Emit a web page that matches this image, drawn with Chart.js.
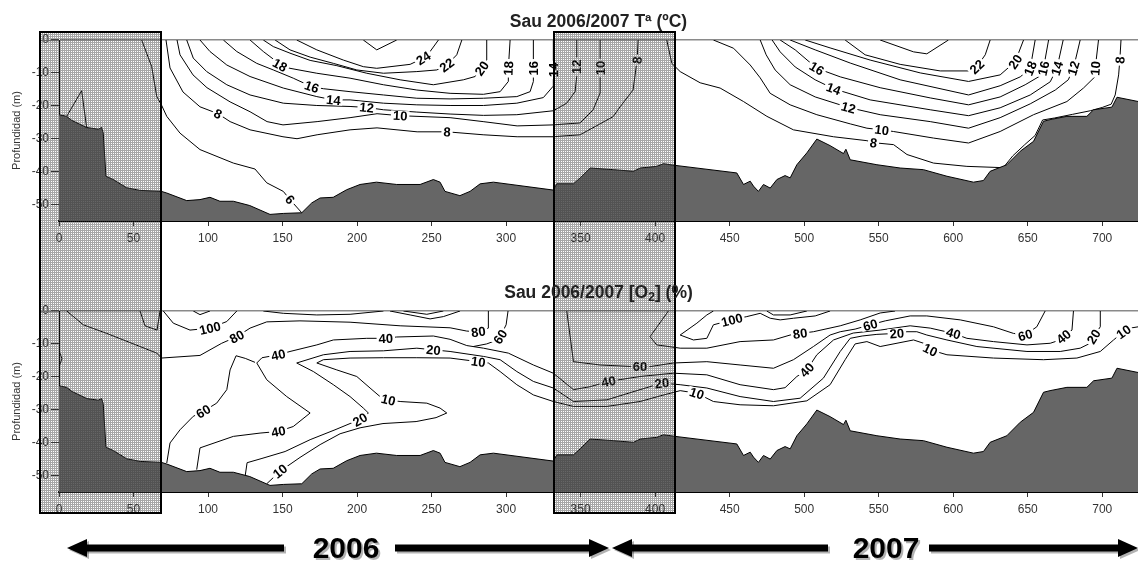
<!DOCTYPE html>
<html>
<head>
<meta charset="utf-8">
<title>Sau 2006/2007</title>
<script src="https://cdn.jsdelivr.net/npm/chart.js@4.4.1/dist/chart.umd.min.js"></script>
<style>
  html, body { margin: 0; padding: 0; background: #fff; }
  body { width: 1138px; height: 561px; position: relative; overflow: hidden; }
  canvas { position: absolute; left: 0; }
  #tempChart { top: 0; }
  #oxyChart { top: 280px; }
</style>
</head>
<body>
<canvas id="tempChart" width="1138" height="280"></canvas>
<canvas id="oxyChart" width="1138" height="281"></canvas>
<script>
// axes
const dayTicks = [0, 50, 100, 150, 200, 250, 300, 350, 400, 450, 500, 550, 600, 650, 700];
const depthTicks = [0, -10, -20, -30, -40, -50];
const shadedDays = [[-13, 68.5], [332.2, 413.4]];

// reservoir bottom (day, depth m)
const bathyDays = [0, 5.1, 8.5, 18.6, 26.4, 28.6, 29.7, 31.5, 36.4, 45.4, 54.4, 68.7, 72.3, 85.7, 94.6, 101.3, 108, 117, 128, 141.6,
  150.5, 162.9, 169.6, 175.2, 184, 193, 202, 213, 226.6, 242.3, 251.2, 255.7, 259, 269, 275.8, 282.6, 291.5, 331.7, 334, 345.2,
  349.7, 356.4, 372, 385.4, 390, 401, 405.6, 413.4, 454.8, 459.3, 463.8, 466, 469.3, 472.7, 477.2, 481.7, 487.2, 490.6, 495.1, 501.8,
  508.5, 517.4, 526.4, 528, 530.9, 548.8, 564.4, 580, 595.8, 613.6, 620.3, 624.8, 636, 645, 653.9, 660.6, 665, 676.3, 689.7, 694.2,
  706.5, 709.9, 724.2];
const bathyDepth = [-22.7, -23.2, -24.4, -26.6, -27.1, -26.6, -28.3, -41.4, -42.4, -44.9, -45.7, -46, -46.5, -48.8, -48.5, -47.8, -49, -49, -50.3, -53,
  -52.7, -52.5, -49.5, -48, -47.8, -45.5, -43.9, -43.2, -43.9, -43.9, -42.4, -43.2, -46, -47.3, -46, -43.7, -43.2, -45.6, -43.7, -43.7,
  -41.9, -38.9, -39.4, -39.9, -38.9, -38.4, -37.6, -38.1, -40.4, -43.9, -42.9, -44.4, -46, -43.9, -45, -42.4, -41.2, -41.9, -37.9, -34.3,
  -30.1, -32.1, -34.5, -33.2, -36.4, -37.9, -38.9, -39.4, -41.4, -43.2, -42.7, -39.9, -37.9, -33.8, -30.8, -24.7, -24.2, -23.2, -23.2, -21.2,
  -20.4, -17.4, -18.7];

// temperature isolines [day, depth]
const t06a = [[55.5,0],[62.2,-8.1],[65.6,-17.2],[68.7,-19.7],[72.3,-23.2],[81.2,-28.3],[94.6,-33.3],[117,-37.4],[131.5,-39.2],[139.4,-43.4],[150.5,-46],[155,-48.5],[162.9,-52.5]];
const t06b = [[5.2,-23.2],[15.2,-15.4],[18.6,-26.8]];
const t08a = [[71.8,0],[74.5,-8.5],[83.2,-15.8],[94.6,-20.3],[106.7,-22.4],[114.8,-24.8],[128.2,-27.3],[150.3,-29.4],[159.7,-30],[173.2,-28.8],[195.3,-27.3],[213.4,-26.7],[240.3,-27.9],[260.4,-27.9],[284.6,-28.8],[307.4,-29.4],[331.5,-29.4],[349.7,-28.8],[371.8,-23.3],[376.5,-20.3],[385.2,-15.2],[387.9,-6.1],[388.6,0]];
const t10a = [[79.2,0],[81.2,-4.5],[89.9,-10.6],[99.3,-14.5],[114.8,-18.8],[128.2,-21.8],[139.6,-24.8],[150.3,-25.8],[173.2,-24.8],[195.3,-23.6],[213.4,-22.4],[228.9,-23],[262.4,-23.6],[284.6,-24.8],[307.4,-26.1],[331.5,-25.8],[349.7,-25.2],[358.4,-21.2],[363.1,-16.1],[363.1,-8.5],[363.1,0]];
const t12a = [[85.7,0],[90.1,-5.5],[99.1,-9.6],[112.6,-13.6],[128.2,-16.7],[150.5,-19.2],[173,-19.9],[195.3,-20.2],[206.5,-20.5],[217.7,-21.2],[240.1,-21.9],[262.4,-22.5],[284.8,-22.9],[307.2,-22.7],[331.7,-21.5],[340.7,-19.2],[346.3,-15.7],[347.4,-11.1],[347.4,-8.1],[347.4,0]];
const t14a = [[94.6,0],[101.3,-3.5],[112.6,-7.6],[128.2,-11.1],[150.5,-14.6],[173,-17.2],[184.1,-18.2],[195.3,-18.2],[217.7,-19.2],[240.1,-19.7],[262.4,-19.9],[284.8,-19.9],[307.2,-19.2],[325,-17.5],[331.7,-14],[331.7,-9.1],[331.7,0]];
const t16a = [[110.3,0],[119.3,-3.5],[132.7,-7.1],[143.8,-9.1],[157.2,-11.6],[169.6,-14.2],[177.4,-14.8],[195.3,-15.7],[217.7,-16.7],[240.1,-17.7],[262.4,-17.9],[284.8,-17.7],[307.2,-17.2],[316.1,-15.7],[318.3,-12.6],[318.3,-8.6],[318.3,0]];
const t18a = [[128.2,0],[137.1,-3.5],[143.8,-5.8],[148.3,-7.6],[155,-8.6],[173,-10.1],[195.3,-11.6],[217.7,-13.6],[240.1,-15.2],[262.4,-16.2],[284.8,-16.5],[296,-15.7],[301.5,-12.6],[301.5,-8.6],[302.7,0]];
const t20a = [[137.1,0],[143.8,-2],[155,-4],[168.5,-6.2],[186.4,-7.8],[206.5,-10.1],[228.9,-12.1],[251.2,-13.6],[271.3,-12.1],[279.2,-11.1],[283.7,-8.6],[287,-6.1],[287,0]];
const t22a = [[145,0],[155,-3],[168.5,-5.2],[184.1,-7.1],[199.8,-9.1],[217.7,-10.1],[240.1,-9.6],[253.5,-9.1],[260.2,-7.6],[266.9,-4.5],[270.3,0]];
const t24a = [[159.5,0],[173,-3],[190.8,-6.1],[204.2,-8.1],[213.2,-8.6],[235.6,-7.4],[244.5,-5.5],[249,-3.5],[254.6,0]];
const t26a = [[204.2,0],[213.2,-3],[226.6,0]];
const t08b = [[407.8,0],[411.2,-7.1],[416.8,-9.6],[430.2,-13],[443.6,-14.6],[459.3,-18.7],[475,-23.2],[492.8,-27.3],[519.7,-29.4],[542.1,-30.6],[546.5,-31.2],[560,-31.8],[569,-34.8],[586.8,-37.4],[609.2,-38.4],[633.6,-38.8],[640,-35.2],[648,-31.8],[655,-29],[660,-24.3],[668,-23.7],[680,-22.6],[692,-21.5],[700,-20.5],[706,-19.5],[708.7,-16.7],[711,-10.6],[711.8,-6.1],[712.6,0]];
const t10b = [[439.1,0],[452.6,-2.5],[463.8,-7.6],[470.5,-11.5],[477.2,-16.2],[490.6,-19.7],[508.5,-22.7],[531,-25.5],[542.1,-26.8],[552.1,-27.3],[559.9,-27.8],[586.8,-29.8],[610.3,-31.3],[631.5,-27.8],[653.9,-22.7],[676.3,-18.7],[687.4,-14.6],[695.3,-11.1],[695.3,-8.6],[697.5,0]];
const t12b = [[470.5,0],[474.5,-4.5],[480.5,-9.1],[490.6,-13.6],[507.4,-17.3],[529.7,-20.5],[551,-22.7],[584.6,-24.8],[610.3,-26.8],[631.5,-23.6],[651.7,-19.4],[668.5,-15.2],[677.2,-12.1],[680.7,-8.6],[685.2,0]];
const t14b = [[478.5,0],[483.9,-3.6],[494,-8.2],[507.4,-12.1],[519.7,-14.8],[544.3,-18.2],[584.6,-21.2],[610.3,-23],[631.5,-20.6],[651.7,-16.7],[665.1,-12.7],[669.6,-8.6],[673.8,0]];
const t16b = [[483.9,0],[494,-3],[508.5,-8.6],[524.2,-11.2],[551,-14.5],[584.6,-17.6],[610.3,-19.7],[631.5,-17.3],[648.3,-13.6],[658.4,-10.9],[660.6,-8.6],[664,0]];
const t18b = [[490.6,0],[507.4,-3],[530.9,-7],[564.4,-12.1],[610.3,-16.7],[631.5,-13.9],[645,-11.2],[651.7,-8.6],[655,0]];
const t20b = [[500.7,0],[517.4,-2.4],[544.3,-6.1],[577.9,-10],[610.3,-12.6],[631.5,-10.6],[641.6,-6.6],[647.2,0]];
const t22b = [[527.5,0],[540.9,-4.5],[564.4,-7.4],[591.3,-9.4],[610.1,-9.4],[615.9,-8.1],[621.5,-4.5],[624.8,0]];
const t24b = [[551,0],[573.4,-3.6],[582.3,-4.2],[596.8,0]];

// oxygen isolines [day, depth]
const o80a = [[5.2,0],[16.3,-4.2],[32,-6.8],[43.2,-8.8],[65.6,-12.8],[68.7,-14.3],[94.6,-13.5],[109.2,-9.8],[119.3,-7.8],[128.2,-5.2],[139.4,-3.3],[161.7,-3],[195.3,-3.4],[228.9,-4.5],[262.4,-5.1],[273.6,-6.1],[281.4,-6.3],[288.1,-5.2],[288.1,0]];
const o100a = [[70,0],[76.7,-3.7],[87.9,-5.8],[101.3,-5.2],[112.6,-3.2],[119.3,0]];
const o120a = [[90.1,0],[94.6,-1.1],[101.3,0]];
const o100v = [[54.4,0],[57.7,-4.5],[65.8,-5.8],[67.8,0]];
const o100b = [[137.1,0],[150.5,-0.7],[173,-1.2],[195.3,-1],[217.7,0]];
const o100c = [[222.1,0],[235.6,-1.2],[249,-2.4],[257.9,-1.7],[269.1,0]];
const o100d = [[231.1,0],[246.8,-1],[257.9,0]];
const o60a = [[72.3,-46.2],[74.5,-40.1],[81.2,-36.1],[90.1,-32],[96.8,-30.5],[105.8,-28],[112.6,-23.9],[114.8,-17.9],[118.8,-13.6],[125,-14.4],[131.5,-15.6]];
const o60c = [[278,-10.8],[287,-10],[293,-9],[296,-7.8],[300,-4.2],[301.3,0]];
const o40 = [[92.4,-48.2],[94.6,-41.6],[117,-38.1],[134.9,-37.1],[147.2,-36.6],[157.2,-35.1],[168.5,-31],[152.8,-26],[139.4,-20.9],[132.7,-15.8],[136.2,-14.2],[147.2,-13.3],[155,-12.3],[173,-10.3],[184.1,-8.8],[206.5,-8.3],[219.3,-8.3],[226.6,-7.9],[251.2,-7.6],[262.4,-8.6],[273.6,-10.5],[284.8,-11.3],[301.5,-12.8],[318.3,-16.4],[331.7,-18.9],[345.2,-23.9],[356.4,-23],[368.7,-21.4],[389.9,-19.9],[412.3,-18.9],[434.7,-19.4],[457,-22.4],[479.4,-23.9],[487.2,-23.3],[495.1,-19.9],[501.8,-17.9],[508.5,-13.3],[519.7,-8.8],[532.9,-6.7],[551,-5.8],[571.1,-4.5],[584.6,-5.2],[600.2,-6.8],[609.2,-8.3],[627,-9.3],[649.5,-10.3],[665.1,-9.8],[671.8,-8.8],[674,-7.8],[679.7,-5.8],[680.7,0]];
const o20 = [[124.8,-50.5],[126.2,-46.1],[136.2,-44.8],[151.7,-42.7],[168.5,-39.1],[185.2,-36.1],[195.3,-34.2],[202,-33],[207.6,-31],[204.2,-29.5],[195.3,-26],[184.1,-22.4],[170.7,-18.4],[159.5,-15.8],[177.4,-13.3],[195.3,-12.3],[217.7,-12.1],[240.1,-11.3],[251.2,-11.8],[262.4,-12.3],[284.8,-13.8],[296,-14.8],[307.2,-18.4],[318.3,-21.4],[331.7,-23.4],[345.2,-27.5],[367.6,-27],[389.9,-23.9],[404.5,-21.9],[416.8,-22.4],[434.7,-23.4],[457,-26],[479.4,-27.5],[497.3,-26.5],[512.9,-20.4],[524.2,-12.3],[530.9,-8.3],[538.9,-7.6],[548.8,-7.1],[562.2,-6.8],[568.9,-6.3],[575.6,-6.3],[582.3,-7.3],[595.8,-8.8],[615.9,-10.8],[649.5,-12.3],[671.8,-12.3],[685.2,-11.3],[691.9,-9.8],[694.2,-7.8],[698.7,-4.8],[698.7,0]];
const o10 = [[139.4,-52.5],[148.3,-48.7],[161.7,-44.5],[175.2,-40.6],[188.6,-37.3],[202,-35.5],[217.4,-34.2],[239.6,-33.6],[253,-32.4],[260.2,-31],[255.7,-29.5],[246.8,-28],[228.9,-27.5],[221,-27],[215.4,-26],[208.7,-23.4],[199.8,-19.9],[186.4,-17.9],[173,-15.8],[177.4,-14.8],[195.3,-14.3],[217.7,-14.2],[240.1,-14.2],[262.4,-14.3],[281.4,-15.4],[288.1,-15.8],[296,-18.4],[307.2,-22.4],[318.3,-25.5],[331.7,-27.5],[345.2,-29],[367.6,-29],[389.9,-27.5],[403.4,-25.8],[416.8,-24.2],[428,-25],[439.1,-27.5],[457,-28.5],[479.4,-28.8],[501.8,-27.3],[517.4,-22.4],[527.5,-14.8],[534.2,-10],[542.1,-9.3],[551,-10.8],[573.4,-8.8],[580.1,-9.8],[584.6,-11.8],[595.8,-13.3],[627,-14.3],[660.6,-14.8],[683,-14.3],[698.7,-12.3],[707.6,-8.8],[714.3,-6.3],[718.8,-5.2],[724.2,-4.8]];
const o60b = [[340.7,0],[345.2,-15.4],[363.1,-16.4],[385.4,-16.9],[389.9,-16.9],[396.6,-16.9],[412.3,-15.8],[434.7,-15.4],[457,-16.4],[479.4,-17.4],[492.8,-14.8],[506.2,-10.8],[517.4,-7.3],[524.2,-6.3],[534.2,-5.5],[544.3,-4.2],[554.4,-3],[571.1,-1.5],[582.3,-1.5],[604.7,-2.7],[627,-4.8],[640.4,-6.8],[648.3,-7.3],[656.1,-4.8],[661.7,0]];
const o80b = [[408.9,0],[396.6,-7.8],[401.1,-10.3],[416.8,-11.3],[434.7,-11.3],[457,-9.3],[479.4,-8.8],[490.6,-7.3],[497.3,-6.8],[506.2,-6.3],[524.2,-4.5],[537.6,-2.7],[551,-0.6],[561,0]];
const o100e = [[439.1,0],[434.7,-1.2],[428,-3.7],[416.8,-7.3],[425.7,-8.8],[434.7,-8.3],[439.1,-4.2],[451.5,-2.7],[461.5,-1.7],[470.5,-0.7],[477.2,-2.2],[483.9,-2.7],[492.8,-2.2],[507.4,-1.5],[517.4,0]];
const o100f = [[474.9,0],[479.4,-1.2],[490.6,-1.2],[501.8,0]];
const o10edge = [[0,-12],[2,-14.5],[0,-17]];

// [level, line, indices of points carrying the label]
const tempLines = [
  [6, t06a, [11]], [6, t06b, []], [8, t08a, [4, 13, 21]], [10, t10a, [11, 19]], [12, t12a, [8, 18]],
  [14, t14a, [6, 15]], [16, t16a, [5, 15]], [18, t18a, [3, 13]], [20, t20a, [10]], [22, t22a, [8]],
  [24, t24a, [6]], [26, t26a, []],
  [8, t08b, [10, 27]], [10, t10b, [9, 18]], [12, t12b, [5, 13]], [14, t14b, [4, 11]], [16, t16b, [2, 10]],
  [18, t18b, [7]], [20, t20b, [6]], [22, t22b, [5]], [24, t24b, []]
];
const oxyLines = [
  [80, o80a, [8, 16]], [100, o100a, [3]], [120, o120a, []], [100, o100v, []], [100, o100b, []],
  [100, o100c, []], [100, o100d, []], [60, o60a, [4]], [60, o60c, [3]], [40, o40, [4, 11, 16, 27, 35, 42, 48]],
  [20, o20, [7, 18, 28, 39, 49]], [10, o10, [1, 13, 24, 35, 47, 54]], [60, o60b, [4, 15, 22]],
  [80, o80b, [8]], [100, o100e, [7]], [100, o100f, []], [10, o10edge, []]
];

Chart.defaults.font.family = 'Arial, "Liberation Sans", sans-serif';
Chart.defaults.color = '#333';

function buildDatasets(lines) {
  const sets = [{
    data: bathyDays.map((d, i) => ({ x: d, y: bathyDepth[i] })),
    borderColor: '#000', borderWidth: 1, backgroundColor: '#666',
    fill: 'start', pointRadius: 0, tension: 0, order: 0
  }];
  lines.forEach(([level, pts, labelAt]) => {
    sets.push({
      data: pts.map(p => ({ x: p[0], y: p[1] })),
      borderColor: '#000', borderWidth: 1, pointRadius: 0, fill: false, tension: 0,
      order: 1, level: level, labelAt: labelAt
    });
  });
  return sets;
}

const contourLabels = {
  id: 'contourLabels',
  afterDatasetsDraw(chart) {
    const ctx = chart.ctx;
    ctx.save();
    ctx.font = 'bold 13px Arial, "Liberation Sans", sans-serif';
    ctx.textAlign = 'center';
    ctx.textBaseline = 'middle';
    chart.data.datasets.forEach((ds, i) => {
      if (!ds.labelAt) return;
      const pts = chart.getDatasetMeta(i).data;
      ds.labelAt.forEach(k => {
        const p = pts[k], a = pts[Math.max(k - 1, 0)], b = pts[Math.min(k + 1, pts.length - 1)];
        let ang = Math.atan2(b.y - a.y, b.x - a.x);
        if (ang > Math.PI / 2) ang -= Math.PI;
        if (ang < -Math.PI / 2) ang += Math.PI;
        const txt = String(ds.level);
        const w = ctx.measureText(txt).width;
        ctx.save();
        ctx.translate(p.x, p.y);
        ctx.rotate(ang);
        ctx.fillStyle = '#fff';
        ctx.fillRect(-w / 2 - 2, -5, w + 4, 10);
        ctx.fillStyle = '#000';
        ctx.fillText(txt, 0, 1);
        ctx.restore();
      });
    });
    ctx.restore();
  }
};

function makeStipple(ctx) {
  const c = document.createElement('canvas');
  c.width = 2; c.height = 2;
  const g = c.getContext('2d');
  g.fillStyle = 'rgba(60,60,60,0.45)';
  g.fillRect(0, 0, 2, 1);
  g.fillRect(0, 1, 1, 1);
  return ctx.createPattern(c, 'repeat');
}

const overlay = {
  id: 'overlay',
  afterDraw(chart, args, opts) {
    const { ctx, chartArea, scales: { x, y } } = chart;
    ctx.save();
    // gray surface line reaching into the left box
    const y0 = Math.round(y.getPixelForValue(0)) + 0.5;
    ctx.strokeStyle = '#8a8a8a';
    ctx.lineWidth = 1.5;
    ctx.beginPath();
    ctx.moveTo(x.getPixelForValue(shadedDays[0][0]), y0);
    ctx.lineTo(chartArea.left, y0);
    ctx.stroke();

    // stippled periods
    const pat = makeStipple(ctx);
    shadedDays.forEach(([d1, d2]) => {
      const x1 = Math.round(x.getPixelForValue(d1)), x2 = Math.round(x.getPixelForValue(d2));
      ctx.fillStyle = pat;
      ctx.fillRect(x1, opts.boxTop, x2 - x1, opts.boxBottom - opts.boxTop);
      ctx.strokeStyle = '#000';
      ctx.lineWidth = 2;
      ctx.beginPath();
      if (opts.closeTop) {
        ctx.moveTo(x1, opts.boxBottom); ctx.lineTo(x1, opts.boxTop);
        ctx.lineTo(x2, opts.boxTop); ctx.lineTo(x2, opts.boxBottom);
      } else {
        ctx.moveTo(x1, opts.boxTop); ctx.lineTo(x1, opts.boxBottom);
        ctx.lineTo(x2, opts.boxBottom); ctx.lineTo(x2, opts.boxTop);
      }
      ctx.stroke();
    });

    // title with optional subscript
    const cx = (chartArea.left + chartArea.right) / 2;
    const mainFont = 'bold 17.5px Arial, "Liberation Sans", sans-serif';
    const subFont = 'bold 12px Arial, "Liberation Sans", sans-serif';
    let total = 0;
    opts.title.forEach(([t, sub]) => { ctx.font = sub ? subFont : mainFont; total += ctx.measureText(t).width; });
    let tx = cx - total / 2;
    ctx.fillStyle = '#222';
    ctx.textBaseline = 'middle';
    ctx.textAlign = 'left';
    opts.title.forEach(([t, sub]) => {
      ctx.font = sub ? subFont : mainFont;
      ctx.fillText(t, tx, opts.titleY + (sub ? 5 : 0));
      tx += ctx.measureText(t).width;
    });

    if (opts.arrows) drawYearArrows(ctx, opts.arrowY);
    ctx.restore();
  }
};

function drawYearArrows(ctx, yc) {
  ctx.save();
  ctx.shadowColor = 'rgba(0,0,0,0.3)';
  ctx.shadowOffsetX = 2;
  ctx.shadowOffsetY = 2;
  ctx.fillStyle = '#000';
  [[85, 284], [395, 593], [630, 828], [929, 1120]].forEach(([a, b]) => ctx.fillRect(a, yc - 3.5, b - a, 7));
  const head = (tip, dir) => {
    const base = tip + dir * 20;
    ctx.beginPath();
    ctx.moveTo(tip, yc);
    ctx.lineTo(base, yc - 9);
    ctx.lineTo(base, yc + 9);
    ctx.closePath();
    ctx.fill();
  };
  head(67, 1); head(609, -1); head(612, 1); head(1138, -1);
  ctx.font = 'bold 30px Arial, "Liberation Sans", sans-serif';
  ctx.textAlign = 'center';
  ctx.textBaseline = 'middle';
  ctx.fillText('2006', 346, yc + 2);
  ctx.fillText('2007', 886, yc + 2);
  ctx.restore();
}

function makeChart(id, lines, topPad, xHeight, extra) {
  return new Chart(document.getElementById(id), {
    type: 'line',
    data: { datasets: buildDatasets(lines) },
    options: {
      responsive: false,
      animation: false,
      events: [],
      layout: { padding: { top: topPad, left: 0, right: 0, bottom: 0 } },
      scales: {
        x: {
          type: 'linear', min: 0, max: 724,
          afterBuildTicks: s => { s.ticks = dayTicks.map(v => ({ value: v })); },
          afterFit: s => { s.height = xHeight; },
          grid: { drawOnChartArea: false, drawTicks: true, tickLength: 5, tickColor: '#333' },
          border: { display: true, color: '#000', width: 2 },
          ticks: { font: { size: 12 }, color: '#333', padding: 5, maxRotation: 0 }
        },
        y: {
          type: 'linear', min: -55, max: 0,
          afterBuildTicks: s => { s.ticks = depthTicks.map(v => ({ value: v })); },
          afterFit: s => { s.width = 59; },
          grid: {
            drawOnChartArea: true, drawTicks: true, tickLength: 8,
            color: c => (c.tick && c.tick.value === 0) ? '#8a8a8a' : 'rgba(0,0,0,0)',
            lineWidth: c => (c.tick && c.tick.value === 0) ? 1.5 : 1,
            tickColor: '#333'
          },
          border: { display: true, color: '#000', width: 1 },
          ticks: { font: { size: 12 }, color: '#333', padding: 2 },
          title: { display: true, text: 'Profundidad (m)', font: { size: 11 }, color: '#333', padding: { top: 10, bottom: 0 } }
        }
      },
      plugins: {
        legend: { display: false },
        tooltip: { enabled: false },
        overlay: extra
      }
    },
    plugins: [contourLabels, overlay]
  });
}

makeChart('tempChart', tempLines, 40, 59, {
  title: [['Sau 2006/2007 T\u00aa (\u00baC)', false]], titleY: 22,
  boxTop: 32, boxBottom: 281, closeTop: true, arrows: false
});
makeChart('oxyChart', oxyLines, 31, 69, {
  title: [['Sau 2006/2007 [O', false], ['2', true], ['] (%)', false]], titleY: 13,
  boxTop: -1, boxBottom: 233, closeTop: false, arrows: true, arrowY: 268
});
</script>
</body>
</html>
